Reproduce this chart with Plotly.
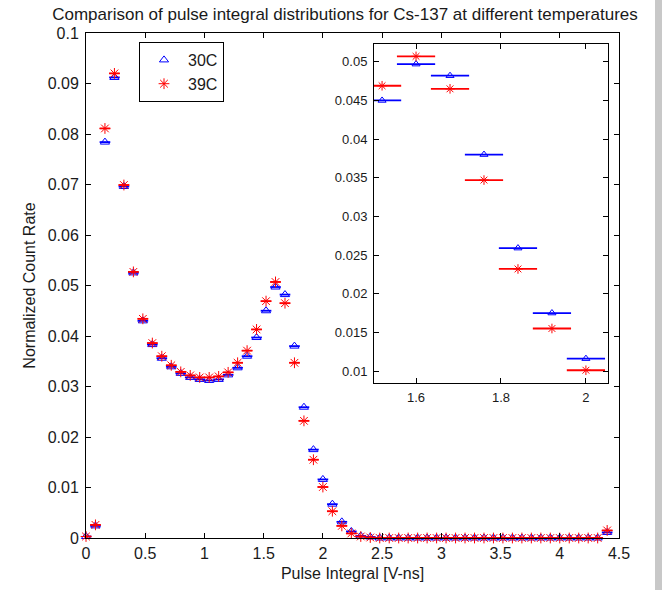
import plotly.graph_objects as go

# Bin centres [V-ns]
pulse_integral = [0.00, 0.08, 0.16, 0.24, 0.32, 0.40, 0.48, 0.56, 0.64, 0.72,
                  0.80, 0.88, 0.96, 1.04, 1.12, 1.20, 1.28, 1.36, 1.44, 1.52,
                  1.60, 1.68, 1.76, 1.84, 1.92, 2.00, 2.08, 2.16, 2.24, 2.32,
                  2.40, 2.48, 2.56, 2.64, 2.72, 2.80, 2.88, 2.96, 3.04, 3.12,
                  3.20, 3.28, 3.36, 3.44, 3.52, 3.60, 3.68, 3.76, 3.84, 3.92,
                  4.00, 4.08, 4.16, 4.24, 4.32, 4.40]

rate_30C = [0.0003, 0.0024, 0.0784, 0.0912, 0.0696, 0.0525, 0.0430, 0.0383, 0.0356, 0.0339,
            0.0326, 0.0318, 0.0314, 0.0312, 0.0314, 0.0323, 0.0337, 0.0360, 0.0397, 0.0450,
            0.0497, 0.0482, 0.0380, 0.0259, 0.0175, 0.0116, 0.0067, 0.0032, 0.0013, 0.0004,
            0.0002, 0.0000, 0.0000, 0.0000, 0.0000, 0.0000, 0.0000, 0.0000, 0.0000, 0.0000,
            0.0000, 0.0000, 0.0000, 0.0000, 0.0000, 0.0000, 0.0000, 0.0000, 0.0000, 0.0000,
            0.0000, 0.0000, 0.0000, 0.0000, 0.0000, 0.0011]

rate_39C = [0.0003, 0.0026, 0.0811, 0.0920, 0.0699, 0.0527, 0.0434, 0.0386, 0.0360, 0.0342,
            0.0329, 0.0322, 0.0318, 0.0318, 0.0320, 0.0328, 0.0347, 0.0371, 0.0413, 0.0469,
            0.0507, 0.0465, 0.0347, 0.0232, 0.0155, 0.0101, 0.0053, 0.0024, 0.0009, 0.0003,
            0.0001, 0.0000, 0.0000, 0.0000, 0.0000, 0.0000, 0.0000, 0.0000, 0.0000, 0.0000,
            0.0000, 0.0000, 0.0000, 0.0000, 0.0000, 0.0000, 0.0000, 0.0000, 0.0000, 0.0000,
            0.0000, 0.0000, 0.0000, 0.0000, 0.0000, 0.0015]

bin_half_width = 0.045

series_names = ["30C", "39C"]

main_xticks = [0, 0.5, 1, 1.5, 2, 2.5, 3, 3.5, 4, 4.5]
main_xticklabels = ["0", "0.5", "1", "1.5", "2", "2.5", "3", "3.5", "4", "4.5"]
main_yticks = [0, 0.01, 0.02, 0.03, 0.04, 0.05, 0.06, 0.07, 0.08, 0.09, 0.1]
main_yticklabels = ["0", "0.01", "0.02", "0.03", "0.04", "0.05", "0.06", "0.07", "0.08", "0.09", "0.1"]
inset_xticks = [1.6, 1.8, 2.0]
inset_xticklabels = ["1.6", "1.8", "2"]
inset_yticks = [0.01, 0.015, 0.02, 0.025, 0.03, 0.035, 0.04, 0.045, 0.05]
inset_yticklabels = ["0.01", "0.015", "0.02", "0.025", "0.03", "0.035", "0.04", "0.045", "0.05"]

BLUE = "#0000ff"
RED = "#ff0000"
FONT = "Liberation Sans, Arial, Helvetica, sans-serif"
TXT = "#1a1a1a"

fig = go.Figure()


def add_series(ys, name, color, symbol, size, xa, ya, show, clip):
    fig.add_trace(go.Scatter(
        x=pulse_integral, y=ys, name=name, mode="markers",
        xaxis=xa, yaxis=ya, showlegend=show, cliponaxis=clip,
        marker=dict(symbol=symbol, size=size, color=color,
                    line=dict(color=color, width=1)),
        error_x=dict(type="constant", value=bin_half_width, color=color,
                     thickness=1.8, width=0),
    ))


# main axes
add_series(rate_30C, series_names[0], BLUE, "triangle-up-open", 8, "x", "y", True, False)
add_series(rate_39C, series_names[1], RED, "asterisk-open", 9, "x", "y", True, False)
# inset axes
add_series(rate_30C, series_names[0], BLUE, "triangle-up-open", 7, "x2", "y2", False, True)
add_series(rate_39C, series_names[1], RED, "asterisk-open", 8, "x2", "y2", False, True)

# the page body margin is removed (post_script), so figure px == page px
W, H = 662, 590
PL, PR, PT, PB = 86, 619, 33, 538          # plot area in page pixels
L, R, T, B = PL, W - PR, PT, H - PB
pw, ph = PR - PL, PB - PT


def px_x(px):
    return (px - PL) / pw


def px_y(py):
    return (PB - py) / ph


axis_common = dict(showline=True, mirror="ticks", linecolor="black", linewidth=1,
                   ticks="inside", ticklen=5, tickcolor="black", showgrid=False,
                   zeroline=False)

fig.update_layout(
    width=W, height=H,
    margin=dict(l=L, r=R, t=T, b=B),
    paper_bgcolor="white", plot_bgcolor="white",
    font=dict(family=FONT, color=TXT),
    title=dict(text="Comparison of pulse integral distributions for Cs-137 at different temperatures",
               x=345 / W, xanchor="center", y=1 - 14 / H, yanchor="middle",
               yref="container", xref="container",
               font=dict(family=FONT, size=17, color=TXT)),
    xaxis=dict(domain=[0, 1], range=[0, 4.5], tickvals=main_xticks, ticktext=main_xticklabels,
               title=dict(text="Pulse Integral [V-ns]", font=dict(family=FONT, size=16, color=TXT),
                          standoff=6),
               ticklabelstandoff=1, tickfont=dict(family=FONT, size=16, color=TXT), **axis_common),
    yaxis=dict(domain=[0, 1], range=[0, 0.1], tickvals=main_yticks, ticktext=main_yticklabels,
               title=dict(text="Normalized Count Rate", font=dict(family=FONT, size=16, color=TXT),
                          standoff=8),
               ticklabelstandoff=3, tickfont=dict(family=FONT, size=16, color=TXT), **axis_common),
    xaxis2=dict(domain=[px_x(374), px_x(608)], range=[1.501, 2.052],
                tickvals=inset_xticks, ticktext=inset_xticklabels,
                anchor="y2", ticklabelstandoff=2,
                tickfont=dict(family=FONT, size=13, color=TXT), **axis_common),
    yaxis2=dict(domain=[px_y(383), px_y(44)], range=[0.00845, 0.0523],
                tickvals=inset_yticks, ticktext=inset_yticklabels,
                anchor="x2", ticklabelstandoff=3,
                tickfont=dict(family=FONT, size=13, color=TXT), **axis_common),
    legend=dict(x=px_x(139), y=px_y(42), xanchor="left", yanchor="top",
                bgcolor="white", bordercolor="black", borderwidth=1,
                font=dict(family=FONT, size=16, color=TXT),
                tracegroupgap=0, itemwidth=38),
    showlegend=True,
    shapes=[dict(type="rect", xref="paper", yref="paper",
                 x0=px_x(655), x1=px_x(W), y0=px_y(H), y1=px_y(0),
                 fillcolor="#c8c8c8", line=dict(width=0), layer="below")],
)

fig.write_html("out.html",
               config={"displayModeBar": False},
               post_script="document.body.style.margin='0px';document.body.style.overflow='hidden';")
